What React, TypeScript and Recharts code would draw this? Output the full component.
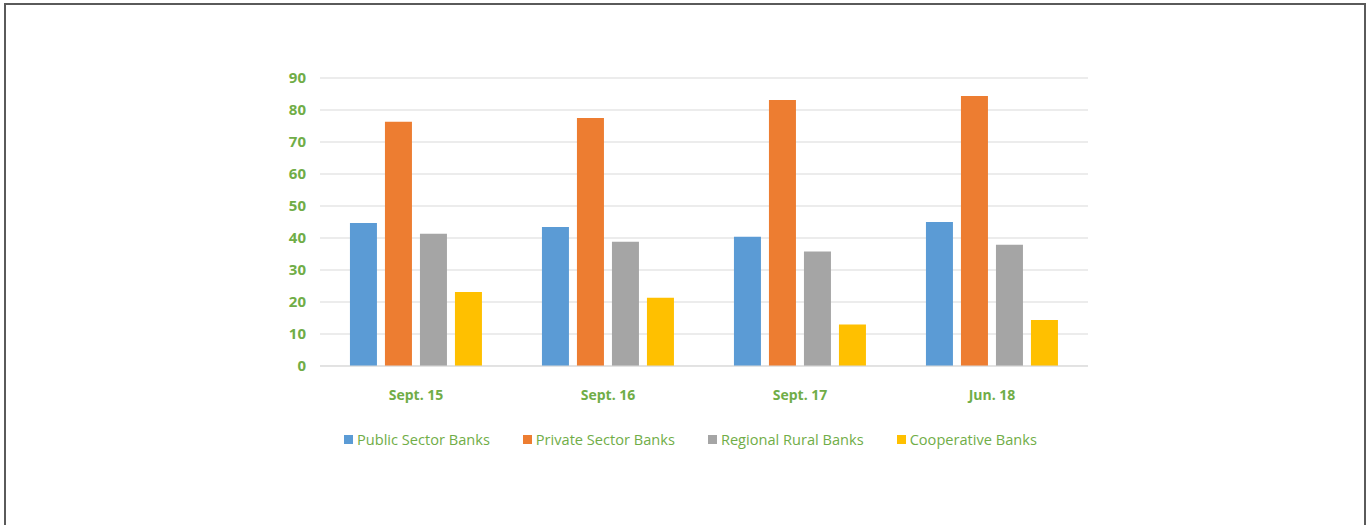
import { BarChart, Bar, XAxis, YAxis, CartesianGrid } from "recharts"

const periods = ["Sept. 15", "Sept. 16", "Sept. 17", "Jun. 18"]
const publicSector = [44.7, 43.4, 40.4, 45]
const privateSector = [76.3, 77.5, 83.1, 84.4]
const regionalRural = [41.3, 38.8, 35.8, 37.9]
const cooperative = [23.1, 21.3, 13, 14.4]
const yTicks = [0, 10, 20, 30, 40, 50, 60, 70, 80, 90]

const seriesList = [
  { key: "psb", name: "Public Sector Banks", color: "#5B9BD5" },
  { key: "pvt", name: "Private Sector Banks", color: "#ED7D31" },
  { key: "rrb", name: "Regional Rural Banks", color: "#A5A5A5" },
  { key: "coop", name: "Cooperative Banks", color: "#FFC000" },
]

const data = periods.map((p, i) => ({
  name: p,
  psb: publicSector[i],
  pvt: privateSector[i],
  rrb: regionalRural[i],
  coop: cooperative[i],
}))

const GREEN = "#70AD47"
const FONT = "'Open Sans', sans-serif"

function LegendRow() {
  return (
    <div
      style={{
        position: "absolute",
        top: 429,
        left: 344,
        display: "flex",
        fontFamily: FONT,
        lineHeight: "20px",
      }}
    >
      {seriesList.map((s) => (
        <div key={s.key} style={{ display: "flex", alignItems: "center", marginRight: 33 }}>
          <span style={{ width: 9, height: 9, background: s.color, display: "inline-block", marginRight: 4 }} />
          <span style={{ color: GREEN, fontSize: 14.6 }}>{s.name}</span>
        </div>
      ))}
    </div>
  )
}

export default function App() {
  return (
    <div style={{ position: "absolute", left: 0, top: 0, width: 1368, height: 525, background: "#fff", overflow: "hidden" }}>
      <div
        style={{
          position: "absolute",
          left: 4,
          top: 3,
          width: 1358,
          height: 530,
          border: "2px solid #5a5a5a",
          borderBottom: "none",
        }}
      />
      <BarChart
        width={1368}
        height={525}
        data={data}
        margin={{ top: 78, right: 280, left: 260, bottom: 129 }}
        barCategoryGap="15.6%"
        barGap={8}
      >
        <CartesianGrid stroke="#D9D9D9" vertical={false} />
        <XAxis
          dataKey="name"
          height={30}
          tickLine={false}
          axisLine={{ stroke: "#D9D9D9" }}
          tickSize={0}
          tickMargin={24}
          tick={{ fill: GREEN, fontSize: 14, fontWeight: 700, fontFamily: FONT }}
        />
        <YAxis
          width={60}
          domain={[0, 90]}
          ticks={yTicks}
          tickLine={false}
          axisLine={false}
          tickSize={0}
          tickMargin={14}
          tick={{ fill: GREEN, fontSize: 15, fontWeight: 700, fontFamily: FONT }}
        />
        {seriesList.map((s) => (
          <Bar key={s.key} dataKey={s.key} name={s.name} fill={s.color} isAnimationActive={false} />
        ))}
      </BarChart>
      <LegendRow />
    </div>
  )
}
